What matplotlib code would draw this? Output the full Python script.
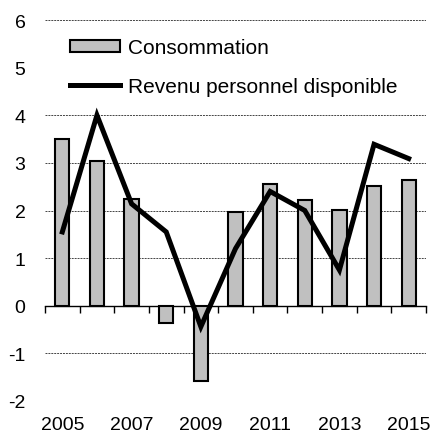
import matplotlib
matplotlib.use("Agg")
import matplotlib.pyplot as plt
import numpy as np

plt.rcParams['font.family'] = ['Liberation Sans', 'DejaVu Sans']
plt.rcParams['axes.unicode_minus'] = False

years = [2005, 2006, 2007, 2008, 2009, 2010, 2011, 2012, 2013, 2014, 2015]
consommation = [3.5, 3.03, 2.25, -0.36, -1.57, 1.97, 2.56, 2.21, 2.02, 2.51, 2.63]
revenu = [1.55, 4.0, 2.14, 1.55, -0.44, 1.2, 2.40, 2.0, 0.75, 3.39, 3.09]
yticks = [-2, -1, 0, 1, 2, 3, 4, 5, 6]

fig = plt.figure(figsize=(4.33, 4.35), dpi=100)
ax = fig.add_axes([45/433, 1 - 402/435, 381/433, 381/435])

x = np.arange(len(years))
bars = ax.bar(x, consommation, width=0.41, color='#c0c0c0', edgecolor='black',
              linewidth=1.5, label='Consommation', zorder=3)
line, = ax.plot(x, revenu, color='black', lw=3.6, solid_joinstyle='miter',
                label='Revenu personnel disponible', zorder=4)

ax.set_xlim(-0.5, len(years) - 0.5)
ax.set_ylim(-2, 6)
ax.set_yticks(yticks)
ax.tick_params(axis='y', length=0, pad=14, labelsize=14)
ax.set_xticks(x[::2])
ax.set_xticklabels([str(y) for y in years[::2]])
ax.tick_params(axis='x', length=0, pad=11, labelsize=14)
for s in ax.spines.values():
    s.set_visible(False)

# dotted grid, the line at 5 sits under the legend and 0 is the axis
ax.grid(axis='y', color='#444444', linestyle=(0, (2, 1)), lw=0.7, zorder=0)
for val, gl in zip(yticks, ax.yaxis.get_gridlines()):
    if val in (0, 5):
        gl.set_visible(False)

# axis line at zero with ticks between categories
zero = ax.secondary_xaxis(0.25)
zero.set_xticks(np.arange(-0.5, len(years)), labels=[])
zero.tick_params(length=5, width=1, direction='out', color='black')
zero.spines['bottom'].set_linewidth(1)

leg = ax.legend([bars, line], ['Consommation', 'Revenu personnel disponible'],
                loc='upper left', bbox_to_anchor=(25/381, 1 - 18/381),
                frameon=False, fontsize=15, handlelength=2.4,
                handleheight=0.5, handletextpad=0.4, labelspacing=0.95,
                borderpad=0, borderaxespad=0)

fig.savefig('out.png', dpi=100)
